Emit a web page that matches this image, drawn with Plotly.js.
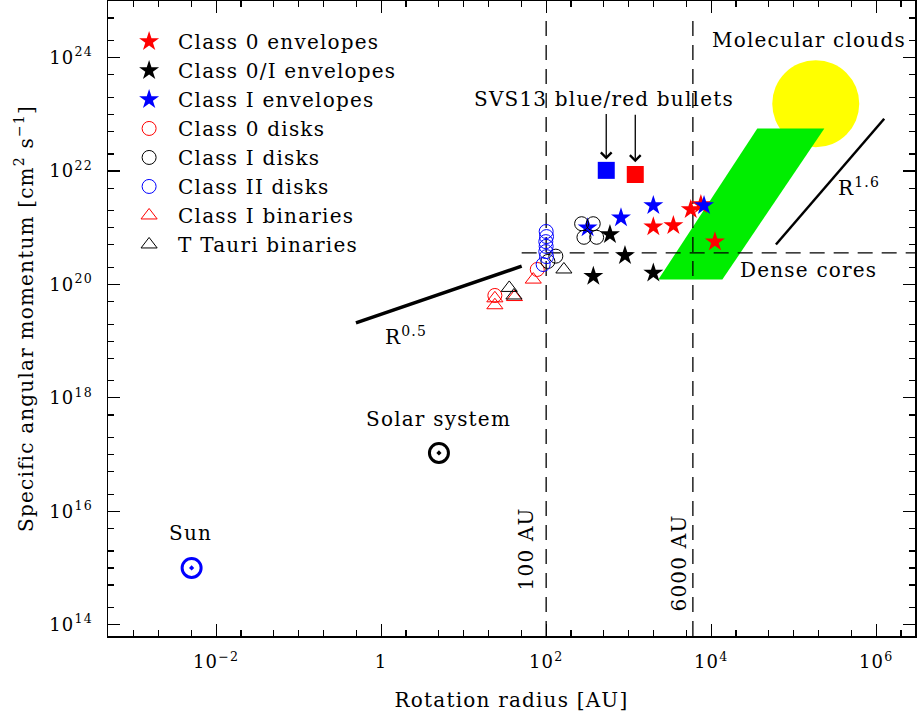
<!DOCTYPE html>
<html>
<head>
<meta charset="utf-8">
<script src="https://cdn.plot.ly/plotly-3.0.1.min.js"></script>
<style>
html,body{margin:0;padding:0;background:#fff;}
#chart{width:917px;height:717px;}
text{letter-spacing:1.2px;}
</style>
</head>
<body>
<div id="chart"></div>
<script>
// ---------------- data (rotation radius [AU], specific angular momentum [cm^2 s^-1]) ----------------
var class0EnvR  = [1990, 3480, 5650, 7500, 11100];
var class0EnvJ  = [1.04e21, 1.10e21, 2.10e21, 2.58e21, 5.66e20];
var class0IEnvR = [593, 902, 373, 1990];
var class0IEnvJ = [7.6e20, 3.24e20, 1.40e20, 1.60e20];
var class1EnvR  = [318, 807, 1990, 8190];
var class1EnvJ  = [1.0e21, 1.5e21, 2.47e21, 2.47e21];
var class0DiskR = [78, 23.9];
var class0DiskJ = [1.84e20, 6.4e19];
var class1DiskR = [269, 372, 287, 409, 131, 105];
var class1DiskJ = [1.18e21, 1.18e21, 6.8e20, 6.8e20, 3.16e20, 2.55e20];
var class2DiskR = [100, 101, 99, 100, 99, 101, 92];
var class2DiskJ = [8.6e20, 7.0e20, 5.7e20, 4.7e20, 3.8e20, 3.1e20, 2.25e20];
var class1BinR  = [69.8, 23.9, 23.9, 41.3];
var class1BinJ  = [1.22e20, 5.7e19, 4.3e19, 6.0e19];
var tTauBinR    = [164, 35.7, 40.7];
var tTauBinJ    = [1.84e20, 8.7e19, 6.4e19];

var svs13BlueR = [535];
var svs13BlueJ = [1.03e22];
var svs13RedR  = [1202];
var svs13RedJ  = [8.7e21];

var sunR = [0.00505];
var sunJ = [1.0e15];
var solarSysR = [5.02];
var solarSysJ = [1.07e17];

var denseCoreR = [2290, 13650, 235000, 36200];
var denseCoreJ = [1.22e20, 1.22e20, 5.64e22, 5.64e22];
var molCloudR = [185000];
var molCloudJ = [1.54e23];

var slope05R = [0.495, 50.5];
var slope05J = [2.11e19, 2.10e20];
var slope16R = [60900, 1.25e6];
var slope16J = [5.07e20, 8.36e22];

var line100R  = [100, 100];
var line100J  = [6.3e13, 5.1e24];
var line6000R = [6000, 6000];
var line6000J = [6.3e13, 5.8e24];
var denseLineR = [50.5, 3.0e6];
var denseLineJ = [3.62e20, 3.62e20];

var xTickVals = [1e-2, 1, 1e2, 1e4, 1e6];
var xTickText = ['10<sup>\u22122</sup>', '1', '10<sup>2</sup>', '10<sup>4</sup>', '10<sup>6</sup>'];
var yTickVals = [1e14, 1e16, 1e18, 1e20, 1e22, 1e24];
var yTickText = ['10<sup>14</sup>', '10<sup>16</sup>', '10<sup>18</sup>', '10<sup>20</sup>', '10<sup>22</sup>', '10<sup>24</sup>'];

// ---------------- helpers ----------------
function minorVals(lo, hi, majors) {
  var out = [];
  for (var e = lo; e <= hi; e++) {
    [1, 2, 5].forEach(function (m) {
      var v = m * Math.pow(10, e);
      var isMajor = majors.some(function (M) { return Math.abs(M - v) / v < 1e-9; });
      if (!isMajor) out.push(v);
    });
  }
  return out;
}

var FONT = 'DejaVu Serif, Liberation Serif, serif';
var RED = '#ff0000', BLUE = '#0000ff', BLACK = '#000000';
var DASH = '15px,9px';

var traces = [
  // background regions
  {x: molCloudR, y: molCloudJ, mode: 'markers', showlegend: false, hoverinfo: 'skip',
   marker: {symbol: 'circle', size: 87, color: '#ffff00', line: {width: 0}}},
  {x: denseCoreR, y: denseCoreJ, mode: 'lines', fill: 'toself', fillcolor: '#00ee00',
   line: {width: 0, color: '#00ee00'}, showlegend: false, hoverinfo: 'skip'},
  // reference lines
  {x: line100R, y: line100J, mode: 'lines', line: {color: BLACK, width: 1.3, dash: DASH}, showlegend: false, hoverinfo: 'skip'},
  {x: line6000R, y: line6000J, mode: 'lines', line: {color: BLACK, width: 1.3, dash: DASH}, showlegend: false, hoverinfo: 'skip'},
  {x: denseLineR, y: denseLineJ, mode: 'lines', line: {color: BLACK, width: 1.3, dash: DASH}, showlegend: false, hoverinfo: 'skip'},
  {x: slope05R, y: slope05J, mode: 'lines', line: {color: BLACK, width: 3.5}, showlegend: false, hoverinfo: 'skip'},
  {x: slope16R, y: slope16J, mode: 'lines', line: {color: BLACK, width: 2.5}, showlegend: false, hoverinfo: 'skip'},
  // Sun and Solar system
  {x: sunR, y: sunJ, mode: 'markers', showlegend: false,
   marker: {symbol: 'circle-open-dot', size: 19, color: BLUE, line: {width: 3, color: BLUE}}},
  {x: solarSysR, y: solarSysJ, mode: 'markers', showlegend: false,
   marker: {symbol: 'circle-open-dot', size: 19, color: BLACK, line: {width: 3, color: BLACK}}},
  // SVS13 bullets
  {x: svs13BlueR, y: svs13BlueJ, mode: 'markers', showlegend: false,
   marker: {symbol: 'square', size: 17, color: BLUE}},
  {x: svs13RedR, y: svs13RedJ, mode: 'markers', showlegend: false,
   marker: {symbol: 'square', size: 17, color: RED}},
  // legend data
  {x: class0EnvR, y: class0EnvJ, name: 'Class 0 envelopes', mode: 'markers',
   marker: {symbol: 'star', size: 15, color: RED, line: {width: 0}}},
  {x: class0IEnvR, y: class0IEnvJ, name: 'Class 0/I envelopes', mode: 'markers',
   marker: {symbol: 'star', size: 15, color: BLACK, line: {width: 0}}},
  {x: class1EnvR, y: class1EnvJ, name: 'Class I envelopes', mode: 'markers',
   marker: {symbol: 'star', size: 15, color: BLUE, line: {width: 0}}},
  {x: class0DiskR, y: class0DiskJ, name: 'Class 0 disks', mode: 'markers',
   marker: {symbol: 'circle-open', size: 14, color: RED, line: {width: 1, color: RED}}},
  {x: class1DiskR, y: class1DiskJ, name: 'Class I disks', mode: 'markers',
   marker: {symbol: 'circle-open', size: 14, color: BLACK, line: {width: 1, color: BLACK}}},
  {x: class2DiskR, y: class2DiskJ, name: 'Class II disks', mode: 'markers',
   marker: {symbol: 'circle-open', size: 14, color: BLUE, line: {width: 1, color: BLUE}}},
  {x: class1BinR, y: class1BinJ, name: 'Class I binaries', mode: 'markers',
   marker: {symbol: 'triangle-up-open', size: 14, color: RED, line: {width: 1, color: RED}}},
  {x: tTauBinR, y: tTauBinJ, name: 'T Tauri binaries', mode: 'markers',
   marker: {symbol: 'triangle-up-open', size: 14, color: BLACK, line: {width: 1, color: BLACK}}}
];

function txt(text, lx, ly, extra) {
  var a = {text: text, x: lx, y: ly, xref: 'x', yref: 'y', showarrow: false,
           font: {family: FONT, size: 20, color: BLACK}, xanchor: 'center', yanchor: 'middle'};
  for (var k in extra) a[k] = extra[k];
  return a;
}

var annotations = [
  txt('Molecular clouds', 5.182, 24.309),
  txt('Dense cores', 5.185, 20.252),
  txt('SVS13 blue/red bullets', 2.698, 23.263),
  txt('Solar system', 0.701, 17.62),
  txt('Sun', -2.309, 15.62),
  txt('100 AU', 1.767, 15.344, {textangle: -90}),
  txt('6000 AU', 3.61, 15.079, {textangle: -90}),
  txt('R<sup>0.5</sup>', 0.301, 19.10),
  txt('R<sup>1.6</sup>', 5.792, 21.72),
  {x: 2.728, y: 22.205, xref: 'x', yref: 'y', text: '', showarrow: true, ax: 0, ay: -47,
   arrowhead: 4, arrowsize: 1.6, arrowwidth: 1.3, arrowcolor: BLACK, standoff: 0},
  {x: 3.080, y: 22.157, xref: 'x', yref: 'y', text: '', showarrow: true, ax: 0, ay: -49,
   arrowhead: 4, arrowsize: 1.6, arrowwidth: 1.3, arrowcolor: BLACK, standoff: 0}
];

var axisCommon = {
  type: 'log', showgrid: false, zeroline: false, showline: true, linecolor: BLACK, linewidth: 1.5,
  mirror: 'allticks', ticks: 'inside', ticklen: 12, tickwidth: 1.2, tickcolor: BLACK,
  tickmode: 'array', tickfont: {family: FONT, size: 18, color: BLACK}
};

var layout = {
  width: 917, height: 717,
  margin: {l: 108, r: 2, t: 1, b: 81, pad: 0},
  paper_bgcolor: '#ffffff', plot_bgcolor: '#ffffff',
  font: {family: FONT, color: BLACK},
  showlegend: true,
  legend: {x: 0.015, y: 0.967, xanchor: 'left', yanchor: 'top', bgcolor: 'rgba(0,0,0,0)',
           borderwidth: 0, itemwidth: 48, font: {family: FONT, size: 20, color: BLACK},
           tracegroupgap: 0},
  xaxis: Object.assign({}, axisCommon, {
    range: [-3.31, 6.47], tickvals: xTickVals, ticktext: xTickText, ticklabelstandoff: 9,
    minor: {tickvals: minorVals(-4, 7, xTickVals), ticklen: 6, ticks: 'inside', tickwidth: 1.2, tickcolor: BLACK},
    title: {text: 'Rotation radius [AU]', font: {family: FONT, size: 20, color: BLACK}, standoff: 22}
  }),
  yaxis: Object.assign({}, axisCommon, {
    range: [13.8, 25.0], tickvals: yTickVals, ticktext: yTickText, ticklabelstandoff: 10,
    minor: {tickvals: minorVals(13, 25, yTickVals), ticklen: 6, ticks: 'inside', tickwidth: 1.2, tickcolor: BLACK},
    title: {text: 'Specific angular momentum [cm<sup>2</sup> s<sup>\u22121</sup>]', font: {family: FONT, size: 20, color: BLACK}, standoff: 10}
  }),
  annotations: annotations
};

Plotly.newPlot('chart', traces, layout, {displayModeBar: false, staticPlot: true});
</script>
</body>
</html>
